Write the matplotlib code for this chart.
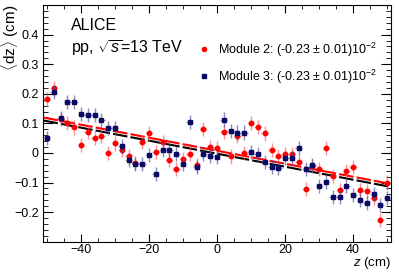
import matplotlib
matplotlib.use("Agg")
import matplotlib.pyplot as plt
from matplotlib.ticker import MultipleLocator
from matplotlib.lines import Line2D

plt.rcParams['font.family'] = ['Liberation Sans', 'DejaVu Sans']
plt.rcParams['mathtext.fontset'] = 'custom'
plt.rcParams['mathtext.rm'] = 'Liberation Sans'
plt.rcParams['mathtext.it'] = 'Liberation Sans:italic'
plt.rcParams['mathtext.bf'] = 'Liberation Sans:bold'
plt.rcParams['axes.unicode_minus'] = True

# bin centres (cm)
z = [-50, -48, -46, -44, -42, -40, -38, -36, -34, -32, -30, -28, -26, -24, -22, -20, -18,
     -16, -14, -12, -10, -8, -6, -4, -2, 0, 2, 4, 6, 8, 10, 12, 14, 16, 18, 20, 22, 24,
     26, 28, 30, 32, 34, 36, 38, 40, 42, 44, 46, 48, 50]

# module 2 (red)
dz_mod2 = [0.182, 0.218, 0.115, 0.102, 0.086, 0.028, 0.070, 0.052, 0.057, 0.000, 0.032,
           0.010, -0.012, -0.035, 0.038, 0.066, 0.002, 0.036, -0.024, -0.055, -0.021,
           -0.003, -0.040, 0.081, 0.020, 0.017, 0.070, -0.012, 0.057, 0.000, 0.102, 0.088,
           0.066, 0.011, -0.010, -0.004, -0.003, -0.030, -0.122, -0.045, -0.053, 0.017,
           -0.078, -0.125, -0.062, -0.048, -0.125, -0.128, -0.153, -0.227, -0.100]

# module 3 (dark blue)
dz_mod3 = [0.051, 0.206, 0.119, 0.173, 0.173, 0.131, 0.127, 0.128, 0.111, 0.085, 0.084,
           0.022, -0.024, -0.038, -0.038, -0.006, -0.071, 0.009, 0.009, -0.002, -0.038,
           0.104, -0.048, -0.004, -0.011, -0.015, 0.113, 0.074, 0.069, 0.069, 0.003, -0.005,
           -0.031, -0.047, -0.052, -0.017, -0.016, 0.016, -0.054, -0.040, -0.111, -0.099,
           -0.149, -0.148, -0.113, -0.142, -0.159, -0.168, -0.138, -0.176, -0.153]

zerr = 1.0
err_mod2 = 0.024
err_mod3 = 0.024

# linear fits: slope, intercept
fit_mod2 = (-0.0022, 0.0075)
fit_mod3 = (-0.0022, -0.0025)

labels = ['Module 2: (-0.23 ± 0.01)10$^{-2}$', 'Module 3: (-0.23 ± 0.01)10$^{-2}$']

red = '#ff0000'
navy = '#0b0b66'

fig = plt.figure(figsize=(3.99, 2.72), dpi=100)
ax = fig.add_axes([0.109, 0.1114, 0.870, 0.8702])

xl = [-51, 51]
ax.plot(xl, [fit_mod2[0] * x + fit_mod2[1] for x in xl], color=red, lw=1.5,
        dashes=(7, 1.5), zorder=3)
ax.plot(xl, [fit_mod3[0] * x + fit_mod3[1] for x in xl], color='black', lw=1.5,
        dashes=(7, 1.5), zorder=3)

ax.errorbar(z, dz_mod2, yerr=err_mod2, xerr=zerr, fmt='o', color=red, ms=3.2,
            ecolor=(1, 0.35, 0.35, 0.65), elinewidth=1.0, capsize=0, zorder=4)
ax.errorbar(z, dz_mod3, yerr=err_mod3, xerr=zerr, fmt='s', color=navy, ms=3.2,
            ecolor=(0.3, 0.3, 0.6, 0.65), elinewidth=1.0, capsize=0, zorder=5)

ax.set_xlim(-51, 51)
ax.set_ylim(-0.3, 0.5)
ax.set_yticks([-0.2, -0.1, 0, 0.1, 0.2, 0.3, 0.4])
ax.set_yticklabels(['\u22120.2', '\u22120.1', '0', '0.1', '0.2', '0.3', '0.4'])
ax.xaxis.set_major_locator(MultipleLocator(20))
ax.xaxis.set_minor_locator(MultipleLocator(5))
ax.yaxis.set_minor_locator(MultipleLocator(0.02))
ax.tick_params(which='both', direction='in', top=True, right=True, labelsize=9)
ax.tick_params(axis='x', which='major', length=6)
ax.tick_params(axis='x', which='minor', length=3)
ax.tick_params(axis='y', which='major', length=7)
ax.tick_params(axis='y', which='minor', length=3.5)
ax.tick_params(axis='x', pad=1.5)

ax.set_ylabel(r'$\langle$dz$\rangle$ (cm)', fontsize=11, ha='right', va='center')
ax.yaxis.set_label_coords(-0.097, 1.0)
ax.set_xlabel(r'$\it{z}$ (cm)', fontsize=9.5, ha='right', va='top')
ax.xaxis.set_label_coords(1.0, -0.055)

ax.text(0.079, 0.894, 'ALICE', transform=ax.transAxes, fontsize=11.5, va='baseline')
ax.text(0.079, 0.798, r'pp, $\sqrt{\it{s}}$=13 TeV', transform=ax.transAxes,
        fontsize=11.5, va='baseline')

handles = [Line2D([], [], ls='none', marker='o', color=red, ms=3),
           Line2D([], [], ls='none', marker='s', color=navy, ms=3)]
ax.legend(handles, labels, loc='upper left', bbox_to_anchor=(0.4445, 0.85),
          frameon=False, fontsize=9, handlelength=1.0, handletextpad=0.6,
          labelspacing=0.7, borderpad=0, borderaxespad=0)

fig.savefig('out.png', dpi=100)
